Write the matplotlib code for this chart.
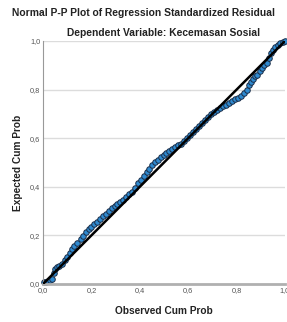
import matplotlib
matplotlib.use("Agg")
import matplotlib.pyplot as plt

observed = [0.004, 0.012, 0.020, 0.028, 0.036, 0.044, 0.050, 0.058, 0.068, 0.080,
            0.091, 0.100, 0.110, 0.120, 0.130, 0.142, 0.155, 0.167, 0.178, 0.190,
            0.200, 0.210, 0.222, 0.235, 0.248, 0.260, 0.272, 0.285, 0.296, 0.306,
            0.318, 0.330, 0.342, 0.355, 0.367, 0.380, 0.392, 0.404, 0.416, 0.428,
            0.440, 0.452, 0.463, 0.475, 0.487, 0.498, 0.510, 0.522, 0.534, 0.546,
            0.558, 0.570, 0.582, 0.595, 0.607, 0.620, 0.632, 0.645, 0.658, 0.670,
            0.683, 0.695, 0.707, 0.720, 0.732, 0.745, 0.757, 0.770, 0.782, 0.795,
            0.807, 0.820, 0.832, 0.845, 0.852, 0.858, 0.866, 0.875, 0.885, 0.895,
            0.905, 0.915, 0.925, 0.935, 0.942, 0.950, 0.960, 0.970, 0.980, 0.990,
            0.998]
expected = [0.008, 0.010, 0.012, 0.016, 0.022, 0.045, 0.062, 0.068, 0.074, 0.084,
            0.099, 0.112, 0.128, 0.145, 0.158, 0.170, 0.184, 0.198, 0.212, 0.225,
            0.236, 0.245, 0.255, 0.266, 0.278, 0.289, 0.300, 0.313, 0.323, 0.330,
            0.336, 0.345, 0.356, 0.370, 0.378, 0.395, 0.415, 0.430, 0.445, 0.460,
            0.475, 0.490, 0.502, 0.512, 0.522, 0.531, 0.540, 0.548, 0.556, 0.563,
            0.571, 0.578, 0.588, 0.600, 0.612, 0.625, 0.638, 0.650, 0.662, 0.675,
            0.688, 0.698, 0.707, 0.716, 0.724, 0.731, 0.737, 0.745, 0.752, 0.760,
            0.767, 0.775, 0.784, 0.800, 0.818, 0.832, 0.845, 0.855, 0.862, 0.875,
            0.890, 0.900, 0.910, 0.930, 0.952, 0.965, 0.975, 0.985, 0.992, 0.996,
            0.999]
ref_line = [0.0, 1.0]
ticks = [0.0, 0.2, 0.4, 0.6, 0.8, 1.0]
tick_labels = ["0,0", "0,2", "0,4", "0,6", "0,8", "1,0"]
title = "Normal P-P Plot of Regression Standardized Residual"
subtitle = "Dependent Variable: Kecemasan Sosial"

plt.rcParams['font.family'] = ['Liberation Sans', 'DejaVu Sans']
fig = plt.figure(figsize=(2.87, 3.22), dpi=100)
ax = fig.add_axes([43/287, 1-284/322, 242/287, 243/322])

ax.set_xlim(0, 1)
ax.set_ylim(0, 1)
for t in ticks[1:]:
    ax.axhline(t, color='#dcdcdc', lw=1.0, zorder=0)

ax.plot(observed, expected, 'o', ms=4.0, mfc='#2f8ad0', mec='#1b2e48', mew=0.7,
        zorder=2, clip_on=False)
ax.plot(ref_line, ref_line, color='black', lw=1.8, zorder=3)

ax.set_xticks(ticks)
ax.set_xticklabels(tick_labels)
ax.set_yticks(ticks)
ax.set_yticklabels(tick_labels)
ax.tick_params(length=0, labelsize=5.3, colors='#555555', pad=2)

for s in ['top', 'right']:
    ax.spines[s].set_visible(False)
ax.spines['left'].set_color('#999999')
ax.spines['left'].set_linewidth(0.8)
ax.spines['bottom'].set_color('#b0b0b0')
ax.spines['bottom'].set_linewidth(2.0)

ax.set_xlabel("Observed Cum Prob", fontsize=7.3, fontweight='bold', color='#222222', labelpad=9)
ax.set_ylabel("Expected Cum Prob", fontsize=7.3, fontweight='bold', color='#222222', labelpad=5)

fig.text(0.5, 1-13/322, title, ha='center', va='center', fontsize=7.4, fontweight='bold', color='#222222')
fig.text(164/287, 1-33/322, subtitle, ha='center', va='center', fontsize=7.4, fontweight='bold', color='#222222')

fig.savefig("out.png", dpi=100)
